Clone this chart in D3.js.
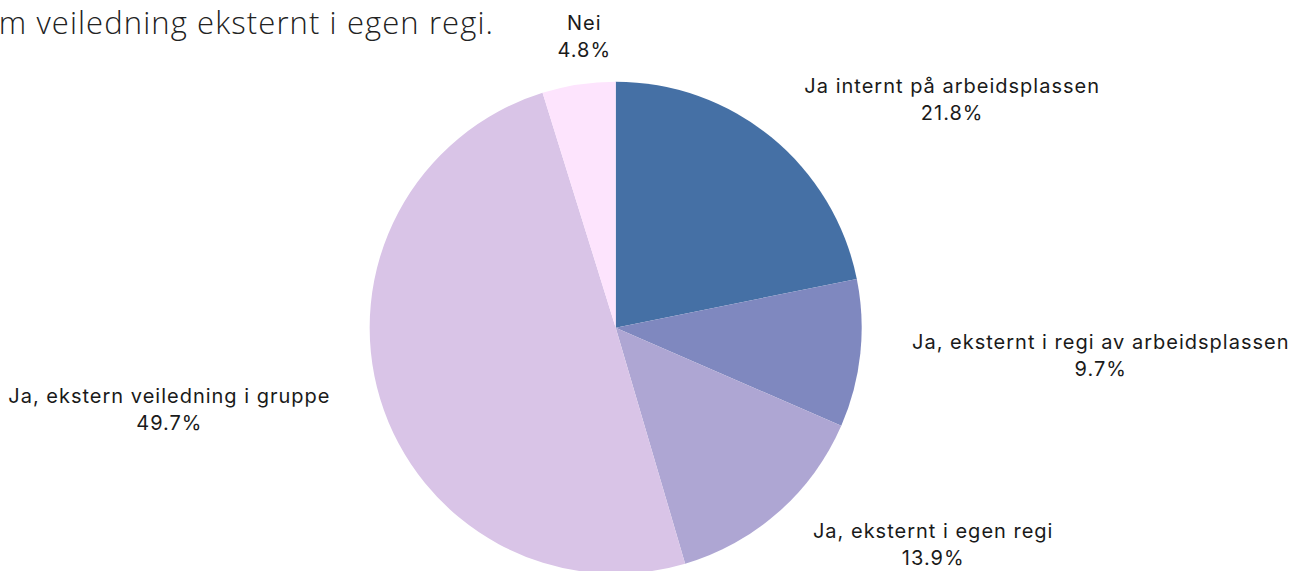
<!DOCTYPE html>
<html><head><meta charset="utf-8">
<script src="https://cdn.jsdelivr.net/npm/d3@7"></script>
<style>html,body{margin:0;padding:0;background:#fff;overflow:hidden}</style>
</head><body>
<svg id="chart" width="1292" height="571"></svg>
<script>
const categories = ["Ja internt på arbeidsplassen", "Ja, eksternt i regi av arbeidsplassen", "Ja, eksternt i egen regi", "Ja, ekstern veiledning i gruppe", "Nei"];
const values = [21.8, 9.7, 13.9, 49.7, 4.8];
const colors = ["#4570a5", "#7f88bf", "#aea6d3", "#d9c4e7", "#fde4fd"];
const titleText = "m veiledning eksternt i egen regi.";

const W = 1292, H = 571;
const svg = d3.select("#chart");
const cx = 615.7, cy = 327.7, R = 246;

svg.append("text").attr("x", 494).attr("y", 34)
  .attr("text-anchor", "end")
  .style("font-family", "'Open Sans', sans-serif").style("font-weight", 300)
  .style("font-size", "31px").style("letter-spacing", "1.1px")
  .attr("fill", "#222").text(titleText);

const pie = d3.pie().sort(null).value(d => d.v);
const data = pie(categories.map((c, i) => ({c, v: values[i], col: colors[i]})));
const arc = d3.arc().innerRadius(0).outerRadius(R);

const g = svg.append("g").attr("transform", `translate(${cx},${cy})`);
g.selectAll("path").data(data).join("path").attr("d", arc).attr("fill", d => d.data.col);

const Rx = 298, Ry = 292;
const lab = g.selectAll("g.lab").data(data).join("g").attr("class", "lab");
lab.each(function(d) {
  const el = d3.select(this);
  const t = el.append("text").attr("text-anchor", "middle")
    .style("font-family", "Inter, sans-serif").style("font-size", "20px")
    .style("letter-spacing", "1px").attr("fill", "#1a1a1a");
  t.append("tspan").attr("x", 0).attr("dy", "-0.25em").text(d.data.c);
  t.append("tspan").attr("x", 0).attr("dy", "1.35em").text(d.data.v.toFixed(1) + "%");
  const w = t.node().getBBox().width;
  const a = (d.startAngle + d.endAngle) / 2;
  const s = Math.sin(a), c = -Math.cos(a);
  const f = Math.max(-1, Math.min(1, (Math.abs(s) - 0.3) / 0.3));
  const x = Rx * s + Math.sign(s) * f * w / 2;
  const y = Ry * c - 4;
  el.attr("transform", `translate(${x},${y})`);
});
</script>
</body></html>
